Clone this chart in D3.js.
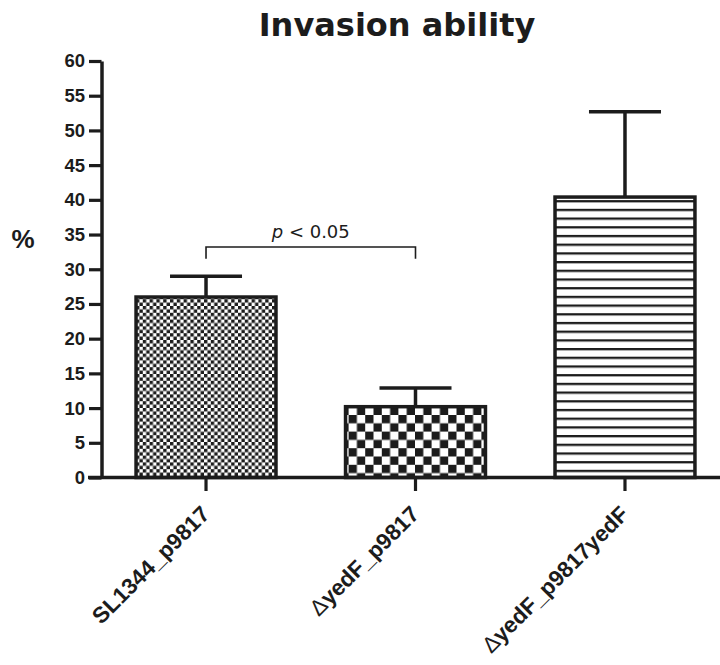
<!DOCTYPE html>
<html>
<head>
<meta charset="utf-8">
<script src="https://cdn.jsdelivr.net/npm/d3@7"></script>
<style>
  body { margin: 0; background: #fff; }
  svg { display: block; }
</style>
</head>
<body>
<div id="chart"></div>
<script>
// Data
const strains = ['SL1344_p9817', 'ΔyedF_p9817', 'ΔyedF_p9817yedF'];
const means = [26.0, 10.2, 40.4];
const sems = [3.0, 2.7, 12.3];
const yTicks = [0, 5, 10, 15, 20, 25, 30, 35, 40, 45, 50, 55, 60];
const patterns = ['fineCheck', 'bigCheck', 'hStripes'];

// significance bracket between bar 0 and bar 1
const sigPair = [0, 1];
const sigLevel = 33.2;
const sigDrop = 31.5;
const sigText = ['p', ' < 0.05'];

const width = 720;
const height = 665;
const ink = '#1c1c1c';

const svg = d3.select('#chart')
  .append('svg')
  .attr('width', width)
  .attr('height', height);

// Patterns for bar fills
const defs = svg.append('defs');

const p1 = defs.append('pattern')
  .attr('id', 'fineCheck')
  .attr('patternUnits', 'userSpaceOnUse')
  .attr('width', 6.8).attr('height', 6.8);
p1.append('rect').attr('width', 6.8).attr('height', 6.8).attr('fill', '#fff');
p1.append('rect').attr('width', 3.4).attr('height', 3.4).attr('fill', ink);
p1.append('rect').attr('x', 3.4).attr('y', 3.4).attr('width', 3.4).attr('height', 3.4).attr('fill', ink);

const p2 = defs.append('pattern')
  .attr('id', 'bigCheck')
  .attr('patternUnits', 'userSpaceOnUse')
  .attr('width', 16.6).attr('height', 16.6);
p2.append('rect').attr('width', 16.6).attr('height', 16.6).attr('fill', '#fff');
p2.append('rect').attr('width', 8.3).attr('height', 8.3).attr('fill', ink);
p2.append('rect').attr('x', 8.3).attr('y', 8.3).attr('width', 8.3).attr('height', 8.3).attr('fill', ink);

const p3 = defs.append('pattern')
  .attr('id', 'hStripes')
  .attr('patternUnits', 'userSpaceOnUse')
  .attr('width', 20).attr('height', 8.7);
p3.append('rect').attr('width', 20).attr('height', 8.7).attr('fill', '#fff');
p3.append('rect').attr('y', 0).attr('width', 20).attr('height', 2.3).attr('fill', ink);

// Scales
const y = d3.scaleLinear()
  .domain([0, 60])
  .range([477.5, 61]);

const x = d3.scaleBand()
  .domain(strains)
  .range([66.5, 764.5])
  .padding(0.332);

const axisX = 101.5;

// Bars
svg.selectAll('.bar')
  .data(strains)
  .enter()
  .append('rect')
  .attr('class', 'bar')
  .attr('x', d => x(d))
  .attr('width', x.bandwidth())
  .attr('y', (d, i) => y(means[i]))
  .attr('height', (d, i) => y(0) - y(means[i]))
  .attr('fill', (d, i) => `url(#${patterns[i]})`)
  .attr('stroke', ink)
  .attr('stroke-width', 3.5);

// Error bars (upper only, with cap)
const err = svg.append('g')
  .attr('stroke', ink)
  .attr('stroke-width', 3.5)
  .attr('fill', 'none');

strains.forEach((d, i) => {
  const cx = x(d) + x.bandwidth() / 2;
  err.append('line')
    .attr('x1', cx).attr('x2', cx)
    .attr('y1', y(means[i])).attr('y2', y(means[i] + sems[i]));
  err.append('line')
    .attr('x1', cx - 36).attr('x2', cx + 36)
    .attr('y1', y(means[i] + sems[i])).attr('y2', y(means[i] + sems[i]));
});

// y-axis
const yAxis = svg.append('g')
  .attr('transform', `translate(${axisX},0)`)
  .call(d3.axisLeft(y).tickValues(yTicks).tickSize(12.5).tickPadding(4).tickSizeOuter(0));

yAxis.select('.domain').attr('stroke', ink).attr('stroke-width', 3.5);
yAxis.selectAll('.tick line').attr('stroke', ink).attr('stroke-width', 3.2);
yAxis.selectAll('.tick text')
  .attr('font-family', 'Liberation Sans, Arial, sans-serif')
  .attr('font-weight', 'bold')
  .attr('font-size', '18.5px')
  .attr('fill', ink);

// x-axis
const xAxis = svg.append('g')
  .attr('transform', `translate(0,${y(0)})`)
  .call(d3.axisBottom(x).tickSize(13.5).tickFormat(''));

xAxis.select('.domain').remove();
xAxis.append('line')
  .attr('x1', axisX - 13.5).attr('x2', width)
  .attr('y1', 0).attr('y2', 0)
  .attr('stroke', ink).attr('stroke-width', 3.5);
xAxis.selectAll('.tick line').attr('stroke', ink).attr('stroke-width', 3.2);

// rotated category labels
svg.selectAll('.xlabel')
  .data(strains)
  .enter()
  .append('text')
  .attr('class', 'xlabel')
  .attr('transform', d => `translate(${x(d) + x.bandwidth() / 2 + 5},${y(0) + 38}) rotate(-45)`)
  .attr('text-anchor', 'end')
  .attr('font-family', 'Liberation Sans, Arial, sans-serif')
  .attr('font-weight', 'bold')
  .attr('font-size', '22.5px')
  .attr('fill', ink)
  .each(function (d) {
    const t = d3.select(this);
    if (d.startsWith('Δ')) {
      t.append('tspan').attr('font-weight', 'normal').text('Δ');
      t.append('tspan').text(d.slice(1));
    } else {
      t.text(d);
    }
  });

// significance bracket
const c0 = x(strains[sigPair[0]]) + x.bandwidth() / 2;
const c1 = x(strains[sigPair[1]]) + x.bandwidth() / 2;
svg.append('path')
  .attr('d', `M${c0},${y(sigDrop)}V${y(sigLevel)}H${c1}V${y(sigDrop)}`)
  .attr('fill', 'none')
  .attr('stroke', ink)
  .attr('stroke-width', 1.6);

const pLabel = svg.append('text')
  .attr('x', (c0 + c1) / 2)
  .attr('y', y(sigLevel) - 9)
  .attr('text-anchor', 'middle')
  .attr('font-family', 'DejaVu Sans, sans-serif')
  .attr('font-size', '18px')
  .attr('fill', ink);
pLabel.append('tspan').attr('font-style', 'italic').text(sigText[0]);
pLabel.append('tspan').text(sigText[1]);

// y-axis label
svg.append('text')
  .attr('x', 23)
  .attr('y', 248)
  .attr('text-anchor', 'middle')
  .attr('font-family', 'Liberation Sans, Arial, sans-serif')
  .attr('font-weight', 'bold')
  .attr('font-size', '26px')
  .attr('fill', ink)
  .text('%');

// title
svg.append('text')
  .attr('x', 397)
  .attr('y', 36)
  .attr('text-anchor', 'middle')
  .attr('font-family', 'DejaVu Sans, sans-serif')
  .attr('font-weight', 'bold')
  .attr('font-size', '32px')
  .attr('fill', ink)
  .text('Invasion ability');
</script>
</body>
</html>
